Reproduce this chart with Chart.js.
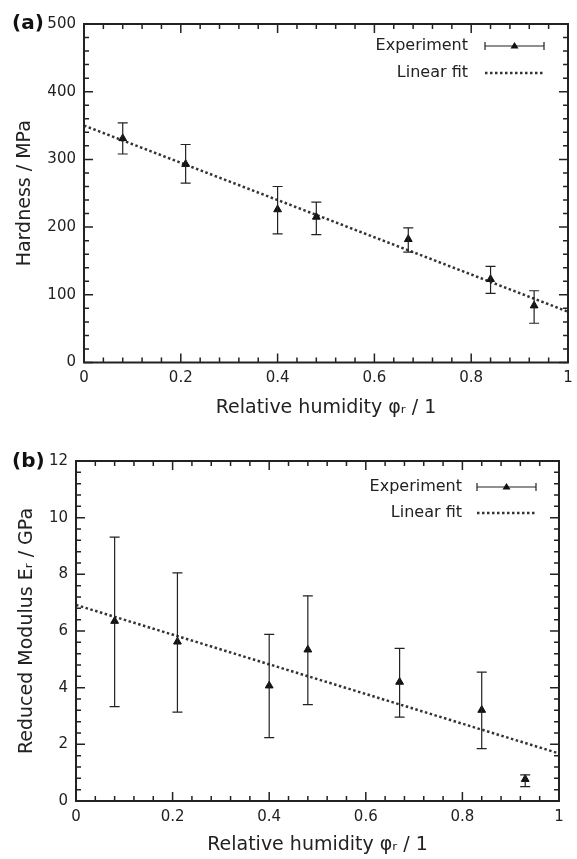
<!DOCTYPE html>
<html>
<head>
<meta charset="utf-8">
<script src="https://cdn.jsdelivr.net/npm/chart.js@4/dist/chart.umd.min.js"></script>
<style>
  html, body { margin: 0; padding: 0; background: #fff; }
  .panel { position: absolute; left: 0; width: 577px; }
  #wrapA { top: 0; height: 430px; }
  #wrapB { top: 430px; height: 429px; }
</style>
</head>
<body>
<div class="panel" id="wrapA"><canvas id="chartA"></canvas></div>
<div class="panel" id="wrapB"><canvas id="chartB"></canvas></div>
<script>
// relative humidity of the samples
const humidity = [0.08, 0.21, 0.40, 0.48, 0.67, 0.84, 0.93];

// (a) hardness, MPa
const hardness = [331, 293, 226, 215, 182, 123, 84];
const hardnessLow = [308, 265, 190, 189, 163, 102, 58];
const hardnessHigh = [354, 322, 260, 237, 199, 142, 106];

// (b) reduced modulus, GPa
const modulus = [6.35, 5.62, 4.07, 5.34, 4.20, 3.21, 0.77];
const modulusLow = [3.33, 3.14, 2.24, 3.40, 2.96, 1.85, 0.51];
const modulusHigh = [9.31, 8.05, 5.88, 7.24, 5.39, 4.55, 0.92];

// linear fits, end points
const fitX = [0, 1];
const hardnessFit = [350, 75];
const modulusFit = [6.92, 1.68];

const xTicks = [0, 0.2, 0.4, 0.6, 0.8, 1];

const INK = '#222';
Chart.defaults.font.family = 'DejaVu Sans';
Chart.defaults.color = INK;

// error bars, inward ticks, frame, legend and panel letter
const decor = {
  id: 'decor',
  afterDatasetsDraw(chart, args, opts) {
    const ctx = chart.ctx;
    const xs = chart.scales.x, ys = chart.scales.y;
    const a = chart.chartArea;
    ctx.save();

    // error bars
    ctx.strokeStyle = INK;
    ctx.lineWidth = 1.2;
    opts.low.forEach((lo, i) => {
      const px = xs.getPixelForValue(opts.xv[i]);
      const p1 = ys.getPixelForValue(lo), p2 = ys.getPixelForValue(opts.high[i]);
      ctx.beginPath();
      ctx.moveTo(px, p1); ctx.lineTo(px, p2);
      ctx.moveTo(px - 5, p1); ctx.lineTo(px + 5, p1);
      ctx.moveTo(px - 5, p2); ctx.lineTo(px + 5, p2);
      ctx.stroke();
    });

    // ticks on all four sides, pointing in
    ctx.lineWidth = 1.5;
    ctx.beginPath();
    const tickX = (v, len) => {
      const p = xs.getPixelForValue(v);
      ctx.moveTo(p, a.bottom); ctx.lineTo(p, a.bottom - len);
      ctx.moveTo(p, a.top); ctx.lineTo(p, a.top + len);
    };
    const tickY = (v, len) => {
      const p = ys.getPixelForValue(v);
      ctx.moveTo(a.left, p); ctx.lineTo(a.left + len, p);
      ctx.moveTo(a.right, p); ctx.lineTo(a.right - len, p);
    };
    for (let k = 0; k <= 25; k++) tickX(k * 0.04, k % 5 === 0 ? 9 : 5);
    const nY = Math.round((ys.max - ys.min) / opts.yMinor);
    for (let k = 0; k <= nY; k++) tickY(ys.min + k * opts.yMinor, k % 5 === 0 ? 9 : 5);
    ctx.stroke();

    // frame
    ctx.lineWidth = 2;
    ctx.strokeRect(a.left, a.top, a.right - a.left, a.bottom - a.top);

    // legend
    const L = opts.legend;
    ctx.font = '16px "DejaVu Sans"';
    ctx.fillStyle = INK;
    ctx.textAlign = 'right';
    ctx.textBaseline = 'middle';
    const tx = a.right - L.textGap, y1 = a.top + L.y1, y2 = a.top + L.y2;
    const s1 = a.right - L.symLeft, s2 = a.right - L.symRight;
    ctx.fillText('Experiment', tx, y1);
    ctx.fillText('Linear fit', tx, y2);
    ctx.lineWidth = 1.2;
    ctx.beginPath();
    ctx.moveTo(s1, y1); ctx.lineTo(s2, y1);
    ctx.moveTo(s1, y1 - 4); ctx.lineTo(s1, y1 + 4);
    ctx.moveTo(s2, y1 - 4); ctx.lineTo(s2, y1 + 4);
    ctx.stroke();
    const mx = (s1 + s2) / 2;
    ctx.fillStyle = '#111';
    ctx.beginPath();
    ctx.moveTo(mx, y1 - 4); ctx.lineTo(mx + 4, y1 + 2.5); ctx.lineTo(mx - 4, y1 + 2.5);
    ctx.closePath(); ctx.fill();
    ctx.strokeStyle = '#333';
    ctx.lineWidth = 2.5;
    ctx.setLineDash([2.5, 2.5]);
    ctx.beginPath();
    ctx.moveTo(s1, y2); ctx.lineTo(s2, y2);
    ctx.stroke();
    ctx.setLineDash([]);

    // panel letter
    ctx.font = 'bold 20px "DejaVu Sans"';
    ctx.fillStyle = '#111';
    ctx.textAlign = 'left';
    ctx.textBaseline = 'alphabetic';
    ctx.fillText(opts.letter, 12, opts.letterY);
    ctx.restore();
  }
};

function makeChart(id, p) {
  return new Chart(document.getElementById(id), {
    type: 'scatter',
    data: {
      datasets: [
        {
          label: 'Experiment',
          data: p.values.map((v, i) => ({ x: humidity[i], y: v })),
          pointStyle: 'triangle',
          pointRadius: 4.5,
          backgroundColor: '#111',
          borderColor: '#111',
          borderWidth: 1
        },
        {
          label: 'Linear fit',
          data: p.fit.map((v, i) => ({ x: fitX[i], y: v })),
          showLine: true,
          pointRadius: 0,
          borderColor: '#333',
          borderWidth: 2.5,
          borderDash: [2.5, 2.5]
        }
      ]
    },
    options: {
      responsive: true,
      maintainAspectRatio: false,
      animation: false,
      layout: { padding: { left: 0, top: p.padTop, right: p.padRight, bottom: 0 } },
      plugins: {
        legend: { display: false },
        tooltip: { enabled: false },
        decor: {
          xv: humidity, low: p.low, high: p.high, yMinor: p.yMinor,
          letter: p.letter, letterY: p.letterY, legend: p.legend
        }
      },
      scales: {
        x: {
          min: 0, max: 1,
          afterBuildTicks: s => { s.ticks = xTicks.map(v => ({ value: v })); },
          afterFit: s => { s.height = p.xHeight; s.paddingLeft = 0; s.paddingRight = 0; },
          grid: { display: false, drawTicks: false },
          border: { display: false },
          ticks: {
            padding: 7, font: { size: 15 }, color: INK,
            callback: v => String(+Number(v).toFixed(2))
          },
          title: {
            display: true, text: 'Relative humidity φᵣ / 1',
            font: { size: 19 }, color: INK, padding: { top: 0, bottom: p.xTitlePad }
          }
        },
        y: {
          min: 0, max: p.yMax,
          ticks: { stepSize: p.yStep, padding: 8, font: { size: 15 }, color: INK },
          afterFit: s => { s.width = p.yWidth; s.paddingTop = 0; s.paddingBottom = 0; },
          grid: { display: false, drawTicks: false },
          border: { display: false },
          title: {
            display: true, text: p.yTitle,
            font: { size: 19 }, color: INK, padding: { top: p.yTitlePad, bottom: 0 }
          }
        }
      }
    },
    plugins: [decor]
  });
}

makeChart('chartA', {
  values: hardness, low: hardnessLow, high: hardnessHigh, fit: hardnessFit,
  yMax: 500, yStep: 100, yMinor: 20, yTitle: 'Hardness / MPa',
  padTop: 24, padRight: 9, yWidth: 84, xHeight: 67.5, xTitlePad: 10.5, yTitlePad: 13.5,
  letter: '(a)', letterY: 29,
  legend: { textGap: 100, symLeft: 83, symRight: 24, y1: 22, y2: 49 }
});

makeChart('chartB', {
  values: modulus, low: modulusLow, high: modulusHigh, fit: modulusFit,
  yMax: 12, yStep: 2, yMinor: 0.4, yTitle: 'Reduced Modulus Eᵣ / GPa',
  padTop: 31, padRight: 18, yWidth: 76, xHeight: 58, xTitlePad: 2.5, yTitlePad: 15.5,
  letter: '(b)', letterY: 37,
  legend: { textGap: 97, symLeft: 82, symRight: 23, y1: 26, y2: 52 }
});
</script>
</body>
</html>
